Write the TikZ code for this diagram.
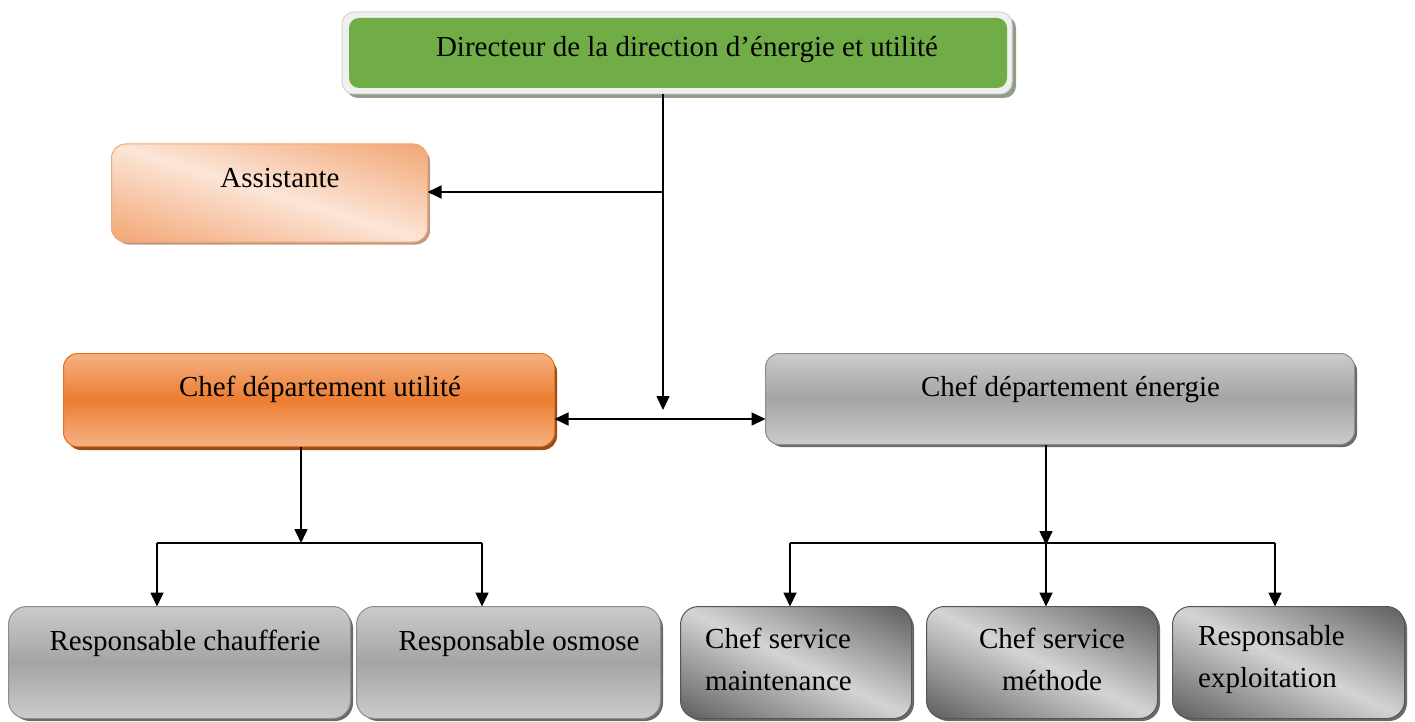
\documentclass[tikz,border=0pt]{standalone}
\usepackage{fontspec}
\setmainfont{Liberation Serif}
\usetikzlibrary{arrows.meta,shadows}

\definecolor{dirgreen}{HTML}{70AD47}
\definecolor{dirframe}{HTML}{EFEFEF}
\definecolor{dirframeline}{HTML}{D6D6D6}
\definecolor{dirshadow}{HTML}{8E9C88}
\definecolor{peachdark}{HTML}{F2A674}
\definecolor{peachlight}{HTML}{FCE5D7}
\definecolor{peachline}{HTML}{F0A878}
\definecolor{peachshadow}{HTML}{BE9A82}
\definecolor{orangemid}{HTML}{ED7D31}
\definecolor{orangelight}{HTML}{F4B183}
\definecolor{orangeline}{HTML}{E0741F}
\definecolor{orangeshadow}{HTML}{9A4C18}
\definecolor{greytop}{HTML}{CBCBCB}
\definecolor{greymid}{HTML}{A4A4A4}
\definecolor{greyline}{HTML}{8C8C8C}
\definecolor{greyshadow}{HTML}{6A6A6A}
\definecolor{steeldark}{HTML}{5E5E5E}
\definecolor{steellight}{HTML}{D4D4D4}
\definecolor{steelline}{HTML}{555555}

% Top-to-bottom gradient: edge colour at top and bottom, middle colour at half height.
% #1 node, #2 half height, #3 corner radius, #4 edge colour, #5 middle colour, #6 border colour
\newcommand\bandshade[6]{%
  \begin{scope}
    \clip[rounded corners=#3] (#1.south west) rectangle (#1.north east);
    \begin{scope}[shift={(#1.center)}, x=1pt, y=#2pt]
      \foreach \k in {0,...,49}{%
        \pgfmathsetmacro\lo{-1+\k*0.04}%
        \pgfmathsetmacro\hi{\lo+0.05}%
        \pgfmathsetmacro\mx{abs(\lo+0.02)*100}%
        \fill[#4!\mx!#5] (-500,\lo) rectangle (500,\hi);
      }
    \end{scope}
  \end{scope}
  \draw[line width=1pt, draw=#6, rounded corners=#3] (#1.south west) rectangle (#1.north east);
}
% Diagonal gradient: edge colour in the upper right and lower left corners,
% middle colour along the diagonal from upper left to lower right.
% #1 node, #2 half width, #3 half height, #4 corner radius, #5 edge, #6 middle, #7 border
\newcommand\diagshade[7]{%
  \begin{scope}
    \clip[rounded corners=#4] (#1.south west) rectangle (#1.north east);
    \begin{scope}[shift={(#1.center)}, x=#2pt, y=#3pt]
      \foreach \k in {0,...,79}{%
        \pgfmathsetmacro\lo{-2+\k*0.05}%
        \pgfmathsetmacro\hi{\lo+0.07}%
        \pgfmathsetmacro\mx{abs(\lo+0.025)*50}%
        \fill[#5!\mx!#6] (\lo-3,3) -- (\lo+3,-3) -- (\hi+3,-3) -- (\hi-3,3) -- cycle;
      }
    \end{scope}
  \end{scope}
  \draw[line width=1pt, draw=#7, rounded corners=#4] (#1.south west) rectangle (#1.north east);
}

\begin{document}
\begin{tikzpicture}[x=1pt,y=-1pt,
  box/.style={rounded corners=14pt, inner sep=0pt, line width=1pt},
  dirouter/.style={box, rounded corners=12pt, fill=dirframe, draw=dirframeline,
    drop shadow={shadow xshift=4pt, shadow yshift=-4pt, opacity=1, fill=dirshadow}},
  dirinner/.style={box, rounded corners=10pt, fill=dirgreen, draw=none},
  peachbox/.style={box, fill=peachlight,
    drop shadow={shadow xshift=3pt, shadow yshift=-3pt, opacity=1, fill=peachshadow}},
  orangebox/.style={box, fill=orangemid,
    drop shadow={shadow xshift=3pt, shadow yshift=-4pt, opacity=1, fill=orangeshadow}},
  greybox/.style={box, fill=greymid,
    drop shadow={shadow xshift=3pt, shadow yshift=-3pt, opacity=1, fill=greyshadow}},
  steelbox/.style={box, rounded corners=18pt, fill=steellight,
    drop shadow={shadow xshift=3pt, shadow yshift=-3pt, opacity=1, fill=greyshadow}},
  lbl/.style={font=\fontsize{29}{42}\selectfont, inner sep=0pt, text height=20pt, text depth=6pt},
  lbltwo/.style={font=\fontsize{29}{42}\selectfont, inner sep=0pt},
  link/.style={line width=1.6pt},
  arr/.style={link, -{Triangle[length=14pt,width=13pt]}},
  darr/.style={link, {Triangle[length=14pt,width=13pt]}-{Triangle[length=14pt,width=13pt]}},
]
\useasboundingbox (0,0) rectangle (1415,722);

% director
\node[dirouter, minimum width=670pt, minimum height=82pt] (dirf) at (677,53) {};
\node[dirinner, minimum width=658pt, minimum height=70pt] (dir) at (678,53) {};
\node[lbl] (tdir) at (687,50) {Directeur de la direction d’énergie et utilité};

% assistant
\node[peachbox, minimum width=315pt, minimum height=97pt] (ass) at (269.5,193) {};
\diagshade{ass}{157.5}{48.5}{14pt}{peachdark}{peachlight}{peachline}
\node[lbl] (tass) at (280,181) {Assistante};

% departments
\node[orangebox, minimum width=490pt, minimum height=92pt] (util) at (309,400) {};
\bandshade{util}{46}{14pt}{orangelight}{orangemid}{orangeline}
\node[lbl] (tutil) at (320,389) {Chef département utilité};
\node[greybox, minimum width=588pt, minimum height=90pt] (ener) at (1060,399) {};
\bandshade{ener}{45}{14pt}{greytop}{greymid}{greyline}
\node[lbl] (tener) at (1070.5,389) {Chef département énergie};

% services
\node[greybox, rounded corners=18pt, minimum width=341pt, minimum height=111pt] (chau) at (179.5,662.5) {};
\bandshade{chau}{55.5}{18pt}{greytop}{greymid}{greyline}
\node[lbl] (tchau) at (185,643) {Responsable chaufferie};
\node[greybox, rounded corners=18pt, minimum width=303pt, minimum height=111pt] (osm) at (508.5,662.5) {};
\bandshade{osm}{55.5}{18pt}{greytop}{greymid}{greyline}
\node[lbl] (tosm) at (519,643) {Responsable osmose};
\node[steelbox, minimum width=230pt, minimum height=111pt] (maint) at (796,662.5) {};
\diagshade{maint}{115}{55.5}{18pt}{steeldark}{steellight}{steelline}
\node[lbltwo, anchor=west, align=left] (tmaint) at (705,659) {Chef service\\maintenance};
\node[steelbox, minimum width=230pt, minimum height=111pt] (meth) at (1042,662.5) {};
\diagshade{meth}{115}{55.5}{18pt}{steeldark}{steellight}{steelline}
\node[lbltwo, align=center] (tmeth) at (1052,659) {Chef service\\méthode};
\node[steelbox, minimum width=231pt, minimum height=111pt] (expl) at (1288.5,662.5) {};
\diagshade{expl}{115.5}{55.5}{18pt}{steeldark}{steellight}{steelline}
\node[lbltwo, anchor=west, align=left] (texpl) at (1198,660) {Responsable\\exploitation};

% junction points
\coordinate (spine) at (663,0);
\coordinate (spineend) at (663,410);
\coordinate (assj) at (663,192);
\coordinate (ubus) at (301,543);
\coordinate (ubl) at (157,543);
\coordinate (ubr) at (482,543);
\coordinate (ebus) at (1046,543);
\coordinate (ebl) at (790,543);
\coordinate (ebr) at (1275,543);

% connectors
\draw[arr] (dirf.south -| spine) -- (spineend);
\draw[arr] (assj) -- (assj -| ass.east);
\draw[darr] (util.east |- 0,419) -- (ener.west |- 0,419);

\draw[arr] (util.south -| ubus) -- (ubus);
\draw[link] (ubl) -- (ubr);
\draw[arr] (ubl) -- (ubl |- chau.north);
\draw[arr] (ubr) -- (ubr |- osm.north);

\draw[arr] (ener.south -| ebus) -- ([yshift=-2pt]ebus);
\draw[link] (ebl) -- (ebr);
\draw[arr] (ebl) -- (ebl |- maint.north);
\draw[arr] (ebus) -- (ebus |- meth.north);
\draw[arr] (ebr) -- (ebr |- expl.north);
\end{tikzpicture}
\end{document}
